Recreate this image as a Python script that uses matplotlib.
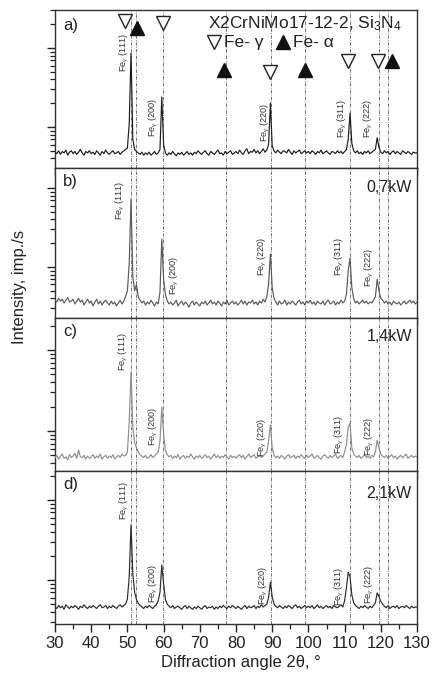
import numpy as np
import matplotlib
matplotlib.use("Agg")
import matplotlib.pyplot as plt
import matplotlib.transforms as mtransforms
from matplotlib.ticker import FixedLocator, NullFormatter, MultipleLocator

plt.rcParams['font.family'] = ['Liberation Sans', 'DejaVu Sans']
plt.rcParams['mathtext.fontset'] = 'custom'
plt.rcParams['mathtext.rm'] = 'Liberation Sans'
plt.rcParams['mathtext.it'] = 'Liberation Sans:italic'
plt.rcParams['mathtext.bf'] = 'Liberation Sans:bold'

# 2-theta scan, 0.5 deg step from 30 to 130 deg
two_theta = np.linspace(30, 130, 201)

# Intensity (imp./s) of each scan, one row per 10 deg
int_ref = [
    48, 46, 50, 45, 49, 47, 51, 44, 48, 50, 46, 49, 45, 48, 52, 47, 44, 49, 47, 50,
    46, 48, 45, 50, 47, 44, 49, 46, 51, 47, 45, 48, 50, 46, 47, 49, 45, 48, 50, 52,
    54, 110, 865, 70, 52, 49, 47, 45, 48, 44, 47, 45, 48, 44, 46, 49, 45, 47, 52, 240,
    60, 47, 44, 47, 45, 49, 46, 43, 47, 45, 48, 44, 46, 49, 45, 47, 44, 48, 46, 50,
    47, 45, 48, 50, 46, 44, 49, 47, 45, 48, 51, 46, 47, 44, 49, 46, 48, 50, 45, 47,
    49, 46, 51, 47, 45, 50, 53, 46, 49, 48, 52, 47, 50, 46, 49, 53, 48, 51, 60, 201,
    58, 50, 47, 51, 48, 46, 50, 49, 47, 52, 48, 45, 50, 47, 49, 51, 46, 48, 50, 47,
    49, 46, 50, 48, 45, 49, 47, 51, 46, 48, 50, 47, 45, 49, 48, 46, 50, 47, 49, 46,
    49, 52, 70, 150, 62, 50, 47, 50, 46, 48, 45, 49, 47, 50, 46, 48, 50, 52, 73, 55,
    48, 46, 50, 47, 49, 45, 48, 50, 46, 49, 47, 45, 50, 48, 46, 49, 47, 45, 48, 47,
    47,
]
int_07kw = [
    38, 36, 40, 37, 39, 35, 38, 41, 36, 37, 39, 34, 37, 40, 36, 38, 33, 36, 39, 35,
    37, 32, 36, 39, 34, 37, 33, 36, 38, 35, 33, 37, 34, 36, 32, 35, 38, 34, 37, 42,
    50, 110, 725, 75, 50, 60, 42, 38, 35, 37, 33, 36, 34, 38, 35, 32, 36, 34, 48, 226,
    70, 45, 37, 34, 36, 33, 35, 38, 32, 35, 37, 33, 36, 34, 31, 35, 37, 33, 36, 34,
    32, 36, 34, 37, 33, 35, 38, 34, 36, 33, 37, 35, 32, 36, 34, 38, 33, 35, 37, 34,
    36, 33, 35, 38, 34, 37, 33, 36, 35, 38, 34, 36, 33, 37, 35, 39, 36, 42, 60, 146,
    55, 40, 36, 33, 37, 34, 35, 38, 33, 36, 34, 37, 35, 33, 36, 38, 34, 36, 33, 37,
    35, 38, 34, 36, 33, 37, 35, 34, 37, 33, 36, 38, 34, 35, 37, 33, 36, 34, 38, 35,
    37, 45, 90, 130, 55, 40, 35, 37, 34, 36, 38, 35, 37, 34, 36, 35, 38, 42, 70, 50,
    40, 38, 35, 37, 34, 36, 33, 37, 35, 34, 36, 33, 35, 37, 34, 36, 38, 35, 37, 34,
    36,
]
int_14kw = [
    47, 50, 45, 49, 52, 46, 48, 44, 51, 47, 49, 53, 46, 58, 48, 47, 50, 45, 49, 46,
    48, 51, 46, 49, 47, 52, 45, 48, 50, 46, 49, 47, 51, 45, 48, 50, 47, 52, 49, 50,
    55, 130, 535, 110, 72, 62, 55, 51, 49, 47, 50, 46, 48, 51, 47, 49, 52, 55, 75, 198,
    90, 58, 51, 48, 50, 46, 49, 47, 51, 45, 48, 50, 46, 49, 47, 52, 48, 45, 49, 47,
    50, 46, 48, 51, 47, 49, 45, 48, 52, 47, 50, 46, 49, 47, 51, 48, 45, 50, 47, 49,
    46, 49, 51, 47, 50, 45, 48, 52, 47, 49, 51, 46, 48, 50, 47, 49, 52, 55, 75, 119,
    62, 50, 47, 49, 46, 50, 48, 45, 49, 51, 47, 48, 50, 46, 49, 47, 51, 48, 46, 50,
    47, 49, 52, 46, 48, 50, 47, 45, 49, 51, 48, 46, 50, 47, 49, 52, 46, 48, 50, 47,
    55, 68, 110, 125, 62, 52, 49, 47, 50, 46, 48, 51, 47, 49, 46, 50, 48, 55, 77, 62,
    52, 49, 47, 50, 46, 48, 51, 47, 49, 45, 48, 50, 47, 49, 52, 46, 48, 50, 47, 49,
    48,
]
int_21kw = [
    46, 44, 48, 45, 47, 43, 49, 46, 44, 47, 45, 48, 46, 43, 47, 45, 49, 46, 44, 47,
    45, 48, 46, 44, 47, 49, 45, 46, 48, 44, 47, 45, 48, 46, 44, 47, 49, 46, 48, 50,
    58, 110, 487, 120, 70, 57, 51, 48, 46, 44, 47, 45, 48, 46, 44, 47, 49, 55, 70, 154,
    90, 57, 50, 47, 45, 48, 44, 46, 47, 45, 43, 46, 48, 44, 47, 45, 43, 46, 44, 47,
    45, 43, 46, 48, 44, 46, 45, 47, 43, 46, 44, 47, 45, 48, 46, 44, 47, 45, 48, 46,
    44, 47, 45, 43, 46, 48, 44, 47, 45, 46, 48, 44, 47, 45, 49, 46, 48, 50, 60, 94,
    62, 50, 47, 45, 48, 46, 44, 47, 45, 48, 46, 44, 47, 49, 45, 47, 44, 46, 48, 45,
    47, 45, 48, 44, 46, 49, 45, 47, 44, 46, 48, 45, 47, 44, 48, 46, 45, 47, 49, 46,
    55, 80, 125, 110, 65, 52, 48, 46, 44, 47, 45, 48, 46, 44, 47, 45, 48, 52, 69, 62,
    54, 50, 47, 45, 48, 44, 46, 47, 45, 48, 44, 46, 47, 45, 48, 46, 44, 47, 45, 46,
    46,
]

panel_letters = ["a)", "b)", "c)", "d)"]
power_labels = ["", "0,7kW", "1,4kW", "2,1kW"]
hkl = ["(111)", "(200)", "(220)", "(311)", "(222)"]

# Reference reflection positions (deg 2-theta)
gamma_lines = [51.0, 59.8, 89.7, 111.5, 119.5]
alpha_lines = [52.4, 77.2, 99.1, 121.9]

scans = [int_ref, int_07kw, int_14kw, int_21kw]
line_colors = ["#1c1c1c", "#5a5a5a", "#8e8e8e", "#2a2a2a"]

# panel geometry in pixels (top, bottom) and log10 y-limits
W, H = 432, 674
ax_left, ax_right = 55, 417
panel_px = [(10, 168), (168, 318), (318, 471), (471, 624)]
ylims = [(1.481, 3.481), (1.354, 3.253), (1.506, 3.395), (1.45, 3.3625)]

# peak label placement: (2-theta, axes fraction) per panel
hkl_pos = [
    [(49.3, 0.734), (57.1, 0.323), (88.0, 0.291), (109.3, 0.316), (116.7, 0.316)],
    [(48.2, 0.787), (62.9, 0.287), (87.2, 0.413), (108.7, 0.413), (117.0, 0.340)],
    [(48.8, 0.784), (57.1, 0.294), (87.2, 0.222), (108.7, 0.242), (117.0, 0.229)],
    [(49.3, 0.810), (57.1, 0.268), (87.7, 0.255), (108.7, 0.248), (117.0, 0.261)],
]
letter_y = [0.905, 0.907, 0.915, 0.915]
power_y = [0, 0.873, 0.876, 0.85]

# log tick positions (decades 10..10^4)
major_y = [10.0 ** k for k in range(1, 5)]
minor_y = [m * 10.0 ** k for k in range(1, 4) for m in range(2, 10)]

fig = plt.figure(figsize=(W / 100, H / 100), dpi=100)
axes = []
for i, (top, bot) in enumerate(panel_px):
    ax = fig.add_axes([ax_left / W, 1 - bot / H, (ax_right - ax_left) / W, (bot - top) / H])
    axes.append(ax)
    ax.set_yscale("log")
    ax.set_xlim(30, 130)
    ax.set_ylim(10 ** ylims[i][0], 10 ** ylims[i][1])

    for xv in gamma_lines + alpha_lines:
        ax.axvline(xv, color="#5c5c5c", lw=0.6, ls=(0, (4, 1.6, 1, 1.6)), zorder=1)

    ax.plot(two_theta, scans[i], color=line_colors[i], lw=0.85, zorder=3)

    trans = mtransforms.blended_transform_factory(ax.transData, ax.transAxes)
    for (xp, yp), name in zip(hkl_pos[i], hkl):
        ax.text(xp, yp, r"Fe$_{\gamma}$ " + name, rotation=90, ha="center", va="center",
                fontsize=6.6, color="#333333", transform=trans, zorder=4)

    ax.text(0.022, letter_y[i], panel_letters[i], transform=ax.transAxes,
            fontsize=12, ha="left", va="center", color="#222222")
    if power_labels[i]:
        ax.text(0.986, power_y[i], power_labels[i], transform=ax.transAxes,
                fontsize=11.5, ha="right", va="center", color="#222222")

    ax.xaxis.set_major_locator(MultipleLocator(10))
    ax.xaxis.set_minor_locator(MultipleLocator(5))
    ax.yaxis.set_major_locator(FixedLocator(major_y))
    ax.yaxis.set_minor_locator(FixedLocator(minor_y))
    ax.yaxis.set_major_formatter(NullFormatter())
    ax.yaxis.set_minor_formatter(NullFormatter())
    ax.tick_params(axis="both", which="major", direction="out", length=5.5, width=1.0,
                   top=False, right=False, colors="#222222", labelsize=12)
    ax.tick_params(axis="both", which="minor", direction="out", length=3.8, width=0.9,
                   top=False, right=False, colors="#222222")
    if i < 3:
        ax.tick_params(axis="x", labelbottom=False)
    else:
        ax.tick_params(axis="x", pad=3)
    for sp in ax.spines.values():
        sp.set_linewidth(1.0)
        sp.set_color("#333333")

# phase markers in the first panel
ax = axes[0]
trans = mtransforms.blended_transform_factory(ax.transData, ax.transAxes)
gamma_marks = [(49.4, 0.930), (59.9, 0.918), (89.3, 0.608), (111.0, 0.677), (119.1, 0.677)]
alpha_marks = [(52.6, 0.886), (76.6, 0.620), (99.0, 0.620), (123.1, 0.677)]
for xm, ym in gamma_marks:
    ax.plot(xm, ym, marker="v", ms=9.5, mfc="white", mec="#222222", mew=1.0,
            transform=trans, clip_on=False, zorder=5)
for xm, ym in alpha_marks:
    ax.plot(xm, ym, marker="^", ms=9.5, mfc="#111111", mec="#111111", mew=1.0,
            transform=trans, clip_on=False, zorder=5)

ax.text(72.3, 0.911, r"X2CrNiMo17-12-2, Si$_3$N$_4$", transform=trans, fontsize=12.5,
        ha="left", va="center", color="#222222", zorder=6)
ax.plot(73.9, 0.797, marker="v", ms=9.5, mfc="white", mec="#222222", mew=1.0,
        transform=trans, clip_on=False, zorder=6)
ax.text(76.8, 0.797, "Fe- γ", transform=trans, fontsize=12.5, ha="left", va="center",
        color="#222222", zorder=6)
ax.plot(93.0, 0.797, marker="^", ms=9.5, mfc="#111111", mec="#111111", mew=1.0,
        transform=trans, clip_on=False, zorder=6)
ax.text(95.7, 0.797, "Fe- α", transform=trans, fontsize=12.5, ha="left", va="center",
        color="#222222", zorder=6)

fig.text(20 / W, 1 - 287 / H, "Intensity, imp./s", rotation=90, ha="center", va="center",
         fontsize=12, color="#222222")
fig.text(241 / W, 1 - 662 / H, "Diffraction angle 2θ, °", ha="center", va="center",
         fontsize=12, color="#222222")

fig.savefig("out.png", dpi=100, facecolor="white")
